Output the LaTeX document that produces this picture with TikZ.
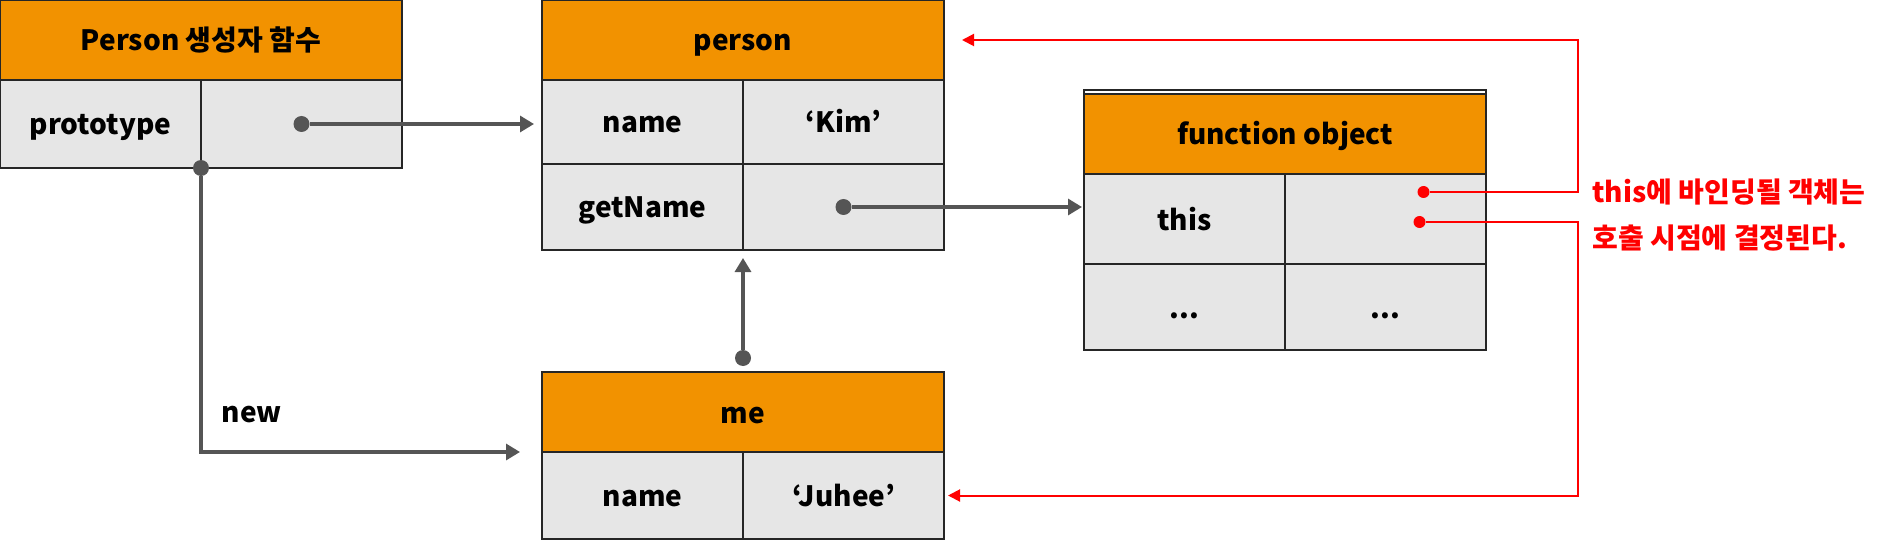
\documentclass[tikz,border=0pt]{standalone}
\usepackage{fontspec}
\setmainfont{Noto Sans CJK KR}
\usetikzlibrary{positioning,arrows.meta}
\definecolor{headc}{RGB}{242,146,0}
\definecolor{cellc}{RGB}{230,230,230}
\definecolor{linkc}{RGB}{85,85,85}
\definecolor{notec}{RGB}{255,0,0}

\begin{document}
\begin{tikzpicture}[x=0.5pt, y=-0.5pt, font=\fontsize{14}{17}\selectfont\bfseries,
  head/.style={rectangle, draw=black!85, line width=1pt, fill=headc, minimum width=201pt, minimum height=40pt, inner sep=0pt, outer sep=0pt, text height=12pt, text depth=1pt},
  cell/.style={rectangle, draw=black!85, line width=1pt, fill=cellc, minimum width=100.5pt, minimum height=44pt, inner sep=0pt, outer sep=0pt, text height=12pt, text depth=1pt},
  link/.style={draw=linkc, line width=1.6pt, -{Triangle[length=7pt, width=8pt]}},
  dot/.style={circle, fill=linkc, inner sep=0pt, minimum size=8pt},
  redlink/.style={draw=notec, line width=1pt, -{Triangle[length=6pt, width=6pt]}},
  reddot/.style={circle, fill=notec, inner sep=0pt, minimum size=6pt},
  note/.style={text=notec, align=left, inner sep=0pt, font=\fontsize{14}{23}\selectfont\bfseries}]

    \useasboundingbox (0,0) rectangle (1881,540);

    % constructor
    \node[head, anchor=north west] (ctor) at (0,0) {Person 생성자 함수};
    \node[cell, below right=0pt and 0pt of ctor.south west] (ckey) {prototype};
    \node[cell, right=0pt of ckey] (cval) {};

    % person
    \node[head, anchor=north west] (person) at (542,0) {person};
    \node[cell, below right=0pt and 0pt of person.south west, minimum height=42pt] (pname) {name};
    \node[cell, right=0pt of pname, minimum height=42pt] (pnameval) {‘Kim’};
    \node[cell, below=0pt of pname, minimum height=43pt] (pget) {getName};
    \node[cell, below=0pt of pnameval, minimum height=43pt] (pgetval) {};

    % function object
    \node[head, anchor=north west] (func) at (1084,94) {function object};
    \node[cell, below right=0pt and 0pt of func.south west, minimum height=45pt] (fthis) {this};
    \node[cell, right=0pt of fthis, minimum height=45pt] (fthisval) {};
    \node[cell, below=0pt of fthis, minimum height=43pt] (fmore) {...};
    \node[cell, below=0pt of fthisval, minimum height=43pt] (fmoreval) {...};
    \draw[black!85, line width=0.8pt] ([yshift=2pt]func.north west) rectangle (fmoreval.south east);

    % me
    \node[head, anchor=north west] (me) at (542,372) {me};
    \node[cell, below right=0pt and 0pt of me.south west, minimum height=43.5pt] (mname) {name};
    \node[cell, right=0pt of mname, minimum height=43.5pt] (mval) {‘Juhee’};

    % note
    \node[note, anchor=west] (note) at (1592,215) {this에 바인딩될 객체는\\호출 시점에 결정된다.};

    \node[dot] (d1) at (cval.center) {};
    \node[dot] (d2) at (ckey.south east) {};
    \node[dot] (d3) at (pgetval.center) {};
    \node[dot] (d4) at ([yshift=7pt]me.north) {};
    \node[reddot] (r1) at ([xshift=19pt, yshift=13.5pt]fthisval.center) {};
    \node[reddot] (r2) at ([xshift=17pt, yshift=-1.5pt]fthisval.center) {};
    \coordinate (rail) at (1578,0);

    \draw[link, shorten >=4pt] (d1) -- (d1 -| pname.west);
    \draw[link, shorten >=11pt] (d2) |- (me.south west) node[pos=0.5, anchor=south west, inner sep=0pt, xshift=9.5pt, yshift=14pt] {new};
    \draw[link, shorten >=1pt] (d3) -- (d3 -| fthis.west);
    \draw[link, shorten >=4pt] (d4) -- (d4 |- pget.south east);
    \draw[redlink, shorten >=9pt] (r1) -- (r1 -| rail) |- (person.east);
    \draw[redlink, shorten >=2pt] (r2) -- (r2 -| rail) |- (mval.east);

  \end{tikzpicture}
\end{document}
